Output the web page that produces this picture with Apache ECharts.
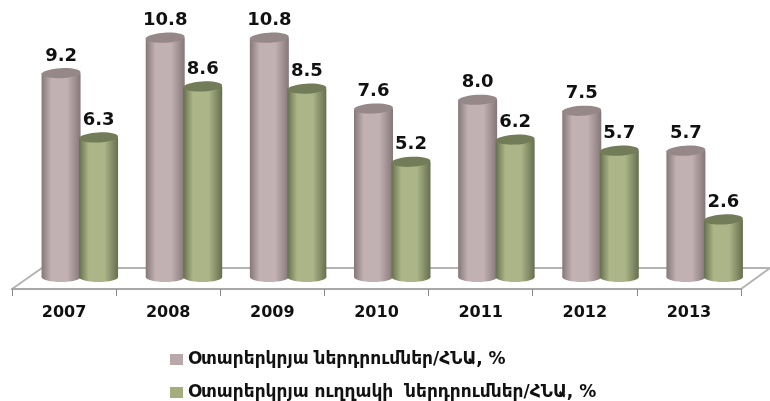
<!DOCTYPE html>
<html>
<head>
<meta charset="utf-8">
<style>
    html, body { margin: 0; padding: 0; background: #fff; }
    #chart { width: 770px; height: 401px; }
</style>
<script src="https://cdn.jsdelivr.net/npm/echarts@6/dist/echarts.min.js"></script>
</head>
<body>
<div id="chart"></div>
<script>
const years = ['2007', '2008', '2009', '2010', '2011', '2012', '2013']
const investments = [9.2, 10.8, 10.8, 7.6, 8.0, 7.5, 5.7]
const directInvestments = [6.3, 8.6, 8.5, 5.2, 6.2, 5.7, 2.6]
const investmentsName = 'Օտարերկրյա ներդրումներ/ՀՆԱ, %'
const directName = 'Օտարերկրյա ուղղակի  ներդրումներ/ՀՆԱ, %'

const font = '"DejaVu Sans", sans-serif'

const legendText = { fontFamily: font, fontSize: 17, fontWeight: 'bold', color: '#111' }

const cylinder = (offset, edge, middle, top) => (params, api) => {
    const value = api.value(1)
    const base = api.coord([api.value(0), 0])
    const head = api.coord([api.value(0), value])
    const x = base[0] + offset
    const rx = 19.5
    const ry = 5
    const body = new echarts.graphic.LinearGradient(0, 0, 1, 0, [
        { offset: 0, color: edge },
        { offset: 0.25, color: middle },
        { offset: 0.65, color: middle },
        { offset: 1, color: edge }
    ])
    return {
        type: 'group',
        children: [
            {
                type: 'ellipse',
                shape: { cx: x, cy: base[1], rx, ry },
                style: { fill: body }
            },
            {
                type: 'rect',
                shape: { x: x - rx, y: head[1], width: rx * 2, height: base[1] - head[1] },
                style: { fill: body }
            },
            {
                type: 'ellipse',
                shape: { cx: x, cy: head[1], rx, ry },
                rotation: 0.05,
                originX: x,
                originY: head[1],
                style: { fill: top }
            },
            {
                type: 'text',
                style: {
                    text: value.toFixed(1),
                    x: x,
                    y: head[1] - 17,
                    align: 'center',
                    verticalAlign: 'middle',
                    font: `bold 18px ${font}`,
                    fill: '#111'
                }
            }
        ]
    }
}

const chart = echarts.init(document.getElementById('chart'))
chart.setOption({
    animation: false,
    backgroundColor: '#fff',
    grid: { left: 12, right: 29, top: 0, bottom: 112 },
    legend: [
        {
            left: 165,
            top: 346,
            itemWidth: 13,
            itemHeight: 11,
            icon: 'rect',
            textStyle: legendText,
            data: [investmentsName]
        },
        {
            left: 165,
            top: 379,
            itemWidth: 13,
            itemHeight: 11,
            icon: 'rect',
            textStyle: legendText,
            data: [directName]
        }
    ],
    // floor of the chart behind the bars
    graphic: [
        {
            type: 'polyline',
            z: 0,
            shape: { points: [[12, 289], [42, 268], [770, 268], [741, 289]] },
            style: { stroke: '#b4b4b4', lineWidth: 2, fill: 'none' }
        }
    ],
    xAxis: {
        type: 'category',
        data: years,
        axisLine: { onZero: false, lineStyle: { color: '#a8a8a8', width: 2 } },
        axisTick: { show: true, length: 7, lineStyle: { color: '#888' } },
        axisLabel: { fontFamily: font, fontSize: 16, fontWeight: 'bold', color: '#111', margin: 16 }
    },
    // min sits below zero because the front edge of the floor is lower than the bar bases
    yAxis: { type: 'value', min: -0.54, max: 12.5, show: false },
    series: [
        {
            name: investmentsName,
            type: 'custom',
            z: 2,
            itemStyle: { color: '#b8a8aa' },
            encode: { x: 0, y: 1 },
            data: years.map((y, i) => [i, investments[i]]),
            renderItem: cylinder(-3, '#857779', '#c2b1b3', '#968789')
        },
        {
            name: directName,
            type: 'custom',
            z: 3,
            itemStyle: { color: '#a5ad7f' },
            encode: { x: 0, y: 1 },
            data: years.map((y, i) => [i, directInvestments[i]]),
            renderItem: cylinder(34.5, '#666f4e', '#abb587', '#727c58')
        }
    ]
})
</script>
</body>
</html>
